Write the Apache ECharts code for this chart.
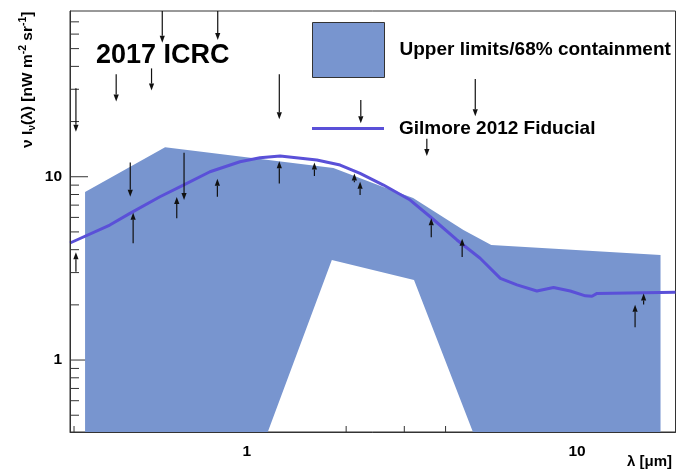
<!DOCTYPE html>
<html><head><meta charset="utf-8">
<script src="https://cdn.jsdelivr.net/npm/echarts@6/dist/echarts.min.js"></script>
<style>html,body{margin:0;padding:0;background:#fff}#c{width:678px;height:470px}</style>
</head><body><div id="c"></div>
<script>
// axis ranges
const X_MIN = 0.2917, X_MAX = 19.87, Y_MIN = 0.405, Y_MAX = 80.2;
const xMajorTicks = [1, 10];
const xMinorTicks = [0.3, 0.4, 0.5, 0.6, 0.7, 0.8, 0.9, 2, 3, 4, 5, 6, 7, 8, 9];
const yMajorTicks = [1, 10];
const yMinorTicks = [0.5, 0.6, 0.7, 0.8, 0.9, 2, 3, 4, 5, 6, 7, 8, 9, 20, 30, 40, 50, 60, 70];

// band: Upper limits / 68% containment
const bandUpperX = [0.324, 0.566, 1.83, 2.59, 3.19, 4.53, 5.5, 17.9];
const bandUpperY = [8.25, 14.5, 11.15, 8.79, 7.65, 5.12, 4.24, 3.74];
const bandLowerX = [17.9, 4.84, 3.21, 1.81, 1.158, 0.324];
const bandLowerY = [0.405, 0.405, 2.73, 3.51, 0.405, 0.405];

// Gilmore 2012 fiducial
const gilmoreX = [0.2917, 0.385, 0.443, 0.546, 0.643, 0.774, 0.954, 1.097, 1.262, 1.63, 1.918, 2.204, 2.594, 3.125, 3.594, 4.33, 5.09, 5.86, 6.58, 7.56, 8.49, 9.54, 10.6, 11.1, 11.5, 19.87];
const gilmoreY = [4.35, 5.45, 6.31, 7.78, 9.01, 10.65, 12.07, 12.7, 12.97, 12.34, 11.58, 10.43, 9.01, 7.46, 6.05, 4.52, 3.59, 2.79, 2.57, 2.38, 2.49, 2.38, 2.24, 2.23, 2.31, 2.34];

// upper limits (arrows pointing down)
const downX = [0.555, 0.817, 0.4025, 0.515, 0.304, 1.255, 0.444, 0.646, 3.51, 2.215, 4.92];
const downFrom = [80.2, 80.2, 36.2, 39.0, 30.4, 36.2, 11.95, 13.5, 16.1, 26.2, 34.1];
const downTo = [53.8, 55.7, 25.7, 29.5, 17.6, 20.6, 7.78, 7.46, 12.97, 19.6, 21.4];

// lower limits (arrows pointing up)
const upX = [0.304, 0.453, 0.614, 0.815, 1.255, 1.603, 2.118, 2.204, 3.62, 4.49, 14.99, 15.91];
const upFrom = [3.03, 4.33, 5.93, 7.78, 9.2, 10.09, 9.32, 7.94, 4.67, 3.65, 1.508, 2.01];
const upTo = [3.87, 6.36, 7.75, 9.75, 12.13, 11.95, 10.43, 9.39, 5.93, 4.59, 2.0, 2.31];

const BAND = '#7895cf', LINE = '#5a50d8', FONT = '"Liberation Sans", Arial, Helvetica, sans-serif';

const chart = echarts.init(document.getElementById('c'), null, {renderer: 'canvas'});

const bandPoly = [];
bandUpperX.forEach((x, i) => bandPoly.push([x, bandUpperY[i]]));
bandLowerX.forEach((x, i) => bandPoly.push([x, bandLowerY[i]]));

function arrowItem(params, api) {
  const p1 = api.coord([api.value(0), api.value(1)]);
  const p2 = api.coord([api.value(0), api.value(2)]);
  const dir = p2[1] > p1[1] ? 1 : -1;
  const hl = 7, hw = 2.6;
  const base = p2[1] - dir * hl;
  return {type: 'group', children: [
    {type: 'line', shape: {x1: p1[0], y1: p1[1], x2: p2[0], y2: base}, style: {stroke: '#111', lineWidth: 1.2}},
    {type: 'polygon', shape: {points: [[p2[0], p2[1]], [p2[0] - hw, base], [p2[0] + hw, base]]}, style: {fill: '#111'}}
  ]};
}

const xTickData = xMajorTicks.map(v => [v, Y_MIN, 12]).concat(xMinorTicks.map(v => [v, Y_MIN, 6]));
const yTickData = yMajorTicks.map(v => [X_MIN, v, 18]).concat(yMinorTicks.map(v => [X_MIN, v, 9]));

const option = {
  animation: false,
  backgroundColor: '#fff',
  title: {text: '2017 ICRC', left: 96, top: 42, padding: 0,
    textStyle: {fontFamily: FONT, fontSize: 27, fontWeight: 'bold', color: '#000'}},
  legend: [
    {left: 312, top: 22, padding: 0, itemWidth: 72, itemHeight: 55, selectedMode: false,
     data: [{name: 'Upper limits/68% containment', icon: 'rect', itemStyle: {color: BAND, borderColor: '#333', borderWidth: 1}}],
     textStyle: {fontFamily: FONT, fontSize: 19, fontWeight: 'bold', color: '#000', padding: [0, 0, 0, 10]}},
    {left: 312, top: 119, padding: 0, itemWidth: 72, itemHeight: 3, selectedMode: false,
     data: [{name: 'Gilmore 2012 Fiducial', icon: 'rect', itemStyle: {color: LINE}}],
     textStyle: {fontFamily: FONT, fontSize: 19, fontWeight: 'bold', color: '#000', padding: [0, 0, 0, 10]}}
  ],
  grid: {left: 70, right: 2.5, top: 11, bottom: 38, show: true, borderColor: '#333', borderWidth: 1, backgroundColor: 'transparent'},
  xAxis: {type: 'log', logBase: 10, min: X_MIN, max: X_MAX, z: 10,
    axisLine: {show: true, onZero: false, lineStyle: {color: '#333', width: 1}},
    axisTick: {show: false}, splitLine: {show: false}, minorTick: {show: false},
    axisLabel: {showMinLabel: false, showMaxLabel: false, margin: 12, fontFamily: FONT, fontSize: 15.5, fontWeight: 'bold', color: '#000'}},
  yAxis: {type: 'log', logBase: 10, min: Y_MIN, max: Y_MAX, z: 10,
    axisLine: {show: true, onZero: false, lineStyle: {color: '#333', width: 1}},
    axisTick: {show: false}, splitLine: {show: false}, minorTick: {show: false},
    axisLabel: {showMinLabel: false, showMaxLabel: false, margin: 8, fontFamily: FONT, fontSize: 15.5, fontWeight: 'bold', color: '#000'}},
  graphic: [
    {type: 'text', x: 28, y: 148, rotation: Math.PI / 2, style: {
      text: '{m|ν I}{s|ν}{m|(λ) [nW m}{p|-2}{m| sr}{p|-1}{m|]}',
      align: 'left', verticalAlign: 'middle',
      rich: {
        m: {fontFamily: FONT, fontSize: 15.5, fontWeight: 'bold', fill: '#000', lineHeight: 20},
        s: {fontFamily: FONT, fontSize: 10.5, fontWeight: 'bold', fill: '#000', verticalAlign: 'bottom', lineHeight: 20},
        p: {fontFamily: FONT, fontSize: 10.5, fontWeight: 'bold', fill: '#000', verticalAlign: 'top', lineHeight: 20}
      }}},
    {type: 'text', x: 672, y: 462, style: {text: 'λ [μm]', align: 'right', verticalAlign: 'middle',
      fontFamily: FONT, fontSize: 15, fontWeight: 'bold', fill: '#000'}}
  ],
  series: [
    {type: 'custom', name: 'ticksX', z: 1, silent: true, clip: false, data: xTickData, encode: {x: 0, y: 1},
     renderItem: (params, api) => {
       const p = api.coord([api.value(0), Y_MIN]);
       return {type: 'line', shape: {x1: p[0], y1: p[1], x2: p[0], y2: p[1] - api.value(2)}, style: {stroke: '#333', lineWidth: 1}};
     }},
    {type: 'custom', name: 'ticksY', z: 1, silent: true, clip: false, data: yTickData, encode: {x: 0, y: 1},
     renderItem: (params, api) => {
       const p = api.coord([X_MIN, api.value(1)]);
       return {type: 'line', shape: {x1: p[0], y1: p[1], x2: p[0] + api.value(2), y2: p[1]}, style: {stroke: '#333', lineWidth: 1}};
     }},
    {type: 'custom', name: 'Upper limits/68% containment', z: 2, clip: true, itemStyle: {color: BAND},
     data: [bandPoly[0]], encode: {x: 0, y: 1},
     renderItem: (params, api) => {
       const pts = bandPoly.map(p => api.coord(p));
       return {type: 'polygon', shape: {points: pts}, style: {fill: BAND}};
     }},
    {type: 'line', name: 'Gilmore 2012 Fiducial', z: 3, clip: true, symbol: 'none', smooth: false,
     data: gilmoreX.map((x, i) => [x, gilmoreY[i]]),
     lineStyle: {color: LINE, width: 3}, itemStyle: {color: LINE}},
    {type: 'custom', name: 'down', z: 4, clip: true, silent: true, encode: {x: 0, y: 1},
     data: downX.map((x, i) => [x, downFrom[i], downTo[i]]), renderItem: arrowItem},
    {type: 'custom', name: 'up', z: 4, clip: true, silent: true, encode: {x: 0, y: 1},
     data: upX.map((x, i) => [x, upFrom[i], upTo[i]]), renderItem: arrowItem}
  ]
};
chart.setOption(option);
</script>
</body></html>
